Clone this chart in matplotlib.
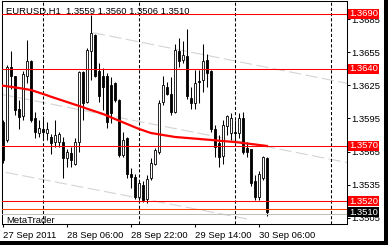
import matplotlib
matplotlib.use("Agg")
import matplotlib.pyplot as plt
import matplotlib.transforms as mtransforms
from matplotlib.patches import Rectangle
import numpy as np

plt.rcParams['font.family'] = ['Liberation Sans', 'DejaVu Sans']

# --- data (EURUSD H1, bars from 27 Sep 14:00) ---
symbol = "EURUSD,H1"
opens = [1.3592, 1.3575, 1.3642, 1.3634, 1.3604, 1.3597, 1.3634, 1.3647, 1.3595, 1.3582,
         1.3585, 1.3582, 1.3578, 1.3574, 1.3574, 1.3574, 1.3559, 1.3564, 1.3554, 1.3574,
         1.3637, 1.3610, 1.3656, 1.3671, 1.3638, 1.3634, 1.3634, 1.3625, 1.3627, 1.3612,
         1.3562, 1.3577, 1.3545, 1.3542, 1.3524, 1.3535, 1.3522, 1.3541, 1.3554, 1.3565,
         1.3610, 1.3624, 1.3617, 1.3601, 1.3656, 1.3648, 1.3652, 1.3614, 1.3609, 1.3629,
         1.3630, 1.3648, 1.3638, 1.3585, 1.3573, 1.3561, 1.3588, 1.3582, 1.3583, 1.3582,
         1.3595, 1.3568, 1.3567, 1.3538, 1.3524, 1.3541, 1.3559]
highs = [1.3594, 1.3644, 1.3656, 1.3634, 1.3612, 1.3638, 1.3666, 1.3648, 1.3601, 1.3594,
         1.3597, 1.3592, 1.3581, 1.3594, 1.3583, 1.3578, 1.3567, 1.3569, 1.3577, 1.3638,
         1.3638, 1.3659, 1.3689, 1.3672, 1.3645, 1.3641, 1.3636, 1.3633, 1.3628, 1.3613,
         1.3583, 1.3578, 1.3550, 1.3545, 1.3538, 1.3538, 1.3544, 1.3559, 1.3568, 1.3612,
         1.3634, 1.3628, 1.3633, 1.3663, 1.3668, 1.3665, 1.3676, 1.3624, 1.3639, 1.3639,
         1.3663, 1.3654, 1.3639, 1.3589, 1.3580, 1.3594, 1.3598, 1.3600, 1.3594, 1.3600,
         1.3601, 1.3574, 1.3567, 1.3544, 1.3547, 1.3561, 1.3560]
lows = [1.3555, 1.3574, 1.3622, 1.3598, 1.3585, 1.3594, 1.3627, 1.3592, 1.3577, 1.3578,
        1.3575, 1.3575, 1.3563, 1.3569, 1.3569, 1.3541, 1.3551, 1.3551, 1.3553, 1.3565,
        1.3594, 1.3609, 1.3630, 1.3633, 1.3610, 1.3603, 1.3586, 1.3591, 1.3610, 1.3560,
        1.3560, 1.3541, 1.3532, 1.3522, 1.3521, 1.3519, 1.3518, 1.3539, 1.3553, 1.3563,
        1.3607, 1.3616, 1.3598, 1.3600, 1.3642, 1.3645, 1.3613, 1.3604, 1.3604, 1.3609,
        1.3619, 1.3624, 1.3583, 1.3560, 1.3551, 1.3554, 1.3580, 1.3575, 1.3576, 1.3577,
        1.3563, 1.3560, 1.3534, 1.3521, 1.3521, 1.3539, 1.3506]
closes = [1.3557, 1.3642, 1.3634, 1.3603, 1.3596, 1.3635, 1.3647, 1.3594, 1.3583, 1.3586,
          1.3583, 1.3585, 1.3573, 1.3580, 1.3581, 1.3559, 1.3565, 1.3557, 1.3574, 1.3637,
          1.3609, 1.3657, 1.3673, 1.3634, 1.3615, 1.3624, 1.3592, 1.3600, 1.3612, 1.3562,
          1.3575, 1.3545, 1.3542, 1.3524, 1.3536, 1.3521, 1.3540, 1.3555, 1.3566, 1.3609,
          1.3625, 1.3617, 1.3601, 1.3657, 1.3647, 1.3653, 1.3615, 1.3609, 1.3627, 1.3628,
          1.3647, 1.3636, 1.3585, 1.3569, 1.3560, 1.3589, 1.3597, 1.3595, 1.3582, 1.3595,
          1.3565, 1.3565, 1.3536, 1.3524, 1.3545, 1.3560, 1.3510]
ma_values = [1.36248, 1.36243, 1.36238, 1.36232, 1.36227, 1.36221, 1.36215, 1.36209, 1.36197, 1.36185,
             1.36173, 1.36161, 1.36148, 1.36136, 1.36124, 1.36112, 1.36100, 1.36088, 1.36076, 1.36064,
             1.36052, 1.36039, 1.36027, 1.36015, 1.36003, 1.35991, 1.35976, 1.35960, 1.35945, 1.35930,
             1.35915, 1.35900, 1.35885, 1.35870, 1.35855, 1.35843, 1.35830, 1.35818, 1.35812, 1.35806,
             1.35800, 1.35794, 1.35788, 1.35782, 1.35779, 1.35776, 1.35773, 1.35770, 1.35767, 1.35764,
             1.35761, 1.35758, 1.35755, 1.35752, 1.35748, 1.35745, 1.35742, 1.35739, 1.35736, 1.35732,
             1.35727, 1.35723, 1.35718, 1.35714, 1.35709, 1.35705, 1.35700]

level_prices = [1.3690, 1.3640, 1.3570, 1.3520]
orange_level = 1.35125
bid_line = 1.35085
trend_lines = [((22.5, 1.3673), (86, 1.3627)),
               ((-0.4, 1.3617), (86, 1.3555)),
               ((0.7, 1.3546), (62, 1.3503))]
separator_bars = [10, 34, 58, 82]
time_ticks = [0, 16, 32, 48, 64]
time_labels = ["27 Sep 2011", "28 Sep 06:00", "28 Sep 22:00", "29 Sep 14:00", "30 Sep 06:00"]
price_ticks = [1.3505, 1.3535, 1.3565, 1.3595, 1.3625, 1.3655, 1.3685]

W, H = 388, 245
FS = 6.8
fig = plt.figure(figsize=(W / 100, H / 100), dpi=100)
ax = fig.add_axes([1.5 / W, 21 / H, 345.5 / W, 223 / H])
ax.set_xlim(-0.375, 86)
ax.set_ylim(1.34991, 1.37018)

x = np.arange(len(opens))
o = np.array(opens); h = np.array(highs); l = np.array(lows); c = np.array(closes)

# trend lines (light gray) behind everything
for (x0, y0), (x1, y1) in trend_lines:
    ax.plot([x0, x1], [y0, y1], color='#d4d4d4', lw=0.8, ls=(0, (11, 4)), zorder=1)

# day separators
for b in separator_bars:
    ax.axvline(b, color='black', lw=0.75, ls=(0, (3, 2)), zorder=1.5)

# candles
ax.vlines(x, l, h, color='black', lw=0.75, zorder=2)
up = c >= o
body_lo = np.minimum(o, c)
body_h = np.maximum(np.abs(c - o), 0.00004)
ax.bar(x[up], body_h[up], bottom=body_lo[up], width=0.7, color='white',
       edgecolor='black', linewidth=0.6, zorder=2.5)
ax.bar(x[~up], body_h[~up], bottom=body_lo[~up], width=0.7, color='black',
       edgecolor='black', linewidth=0.6, zorder=2.5)

# moving average
ax.plot(x, ma_values, color='red', lw=1.6, zorder=3)

# horizontal levels
for p in level_prices:
    ax.axhline(p, color='red', lw=0.75, zorder=4)
ax.axhline(orange_level, color='#ff4500', lw=0.75, zorder=4)
ax.axhline(bid_line, color='#c0c0c0', lw=0.75, zorder=4)

# axes styling
for s in ax.spines.values():
    s.set_linewidth(0.75)
    s.set_color('black')
ax.yaxis.tick_right()
ax.set_yticks(price_ticks)
ax.set_yticklabels([f"{p:.4f}" for p in price_ticks])
ax.tick_params(axis='y', direction='out', length=2.2, width=0.75, pad=1.2,
               labelsize=FS, colors='black')
ax.set_xticks(time_ticks)
ax.set_xticklabels(time_labels, ha='left')
ax.tick_params(axis='x', direction='out', length=2.5, width=0.75, pad=2.5,
               labelsize=FS, colors='black')

# price labels on the right scale (they cover the scale labels, as in MT4)
px_per_price = 223 / (ax.get_ylim()[1] - ax.get_ylim()[0])
box_h = 10 / px_per_price
trans = mtransforms.blended_transform_factory(ax.transAxes, ax.transData)
bx0, bw = 1.5 / 345.5 + 1.0, 30.5 / 345.5
for p, col in [(pp, 'red') for pp in level_prices] + [(closes[-1], 'black')]:
    ax.add_patch(Rectangle((bx0, p - box_h / 2), bw, box_h, transform=trans,
                           facecolor=col, edgecolor='none', clip_on=False, zorder=6))
    ax.text(bx0 + bw / 2, p, f"{p:.4f}", transform=trans, ha='center', va='center',
            color='white', fontsize=FS, clip_on=False, zorder=7)

# header and watermark
header = f"{symbol}  {opens[-1]:.4f} {highs[-1]:.4f} {lows[-1]:.4f} {closes[-1]:.4f}"
fig.text(6 / W, (H - 13.5) / H, header, fontsize=FS, va='baseline', color='black')
fig.text(6 / W, (H - 222.5) / H, "MetaTrader", fontsize=FS, va='baseline', color='black')

# window frame (black bands at right and bottom)
fig.patches.append(Rectangle((384 / W, 0), 4 / W, 1, transform=fig.transFigure,
                             facecolor='black', edgecolor='none'))
fig.patches.append(Rectangle((0, 0), 1, 4 / H, transform=fig.transFigure,
                             facecolor='black', edgecolor='none'))

fig.savefig("out.png", dpi=100)
